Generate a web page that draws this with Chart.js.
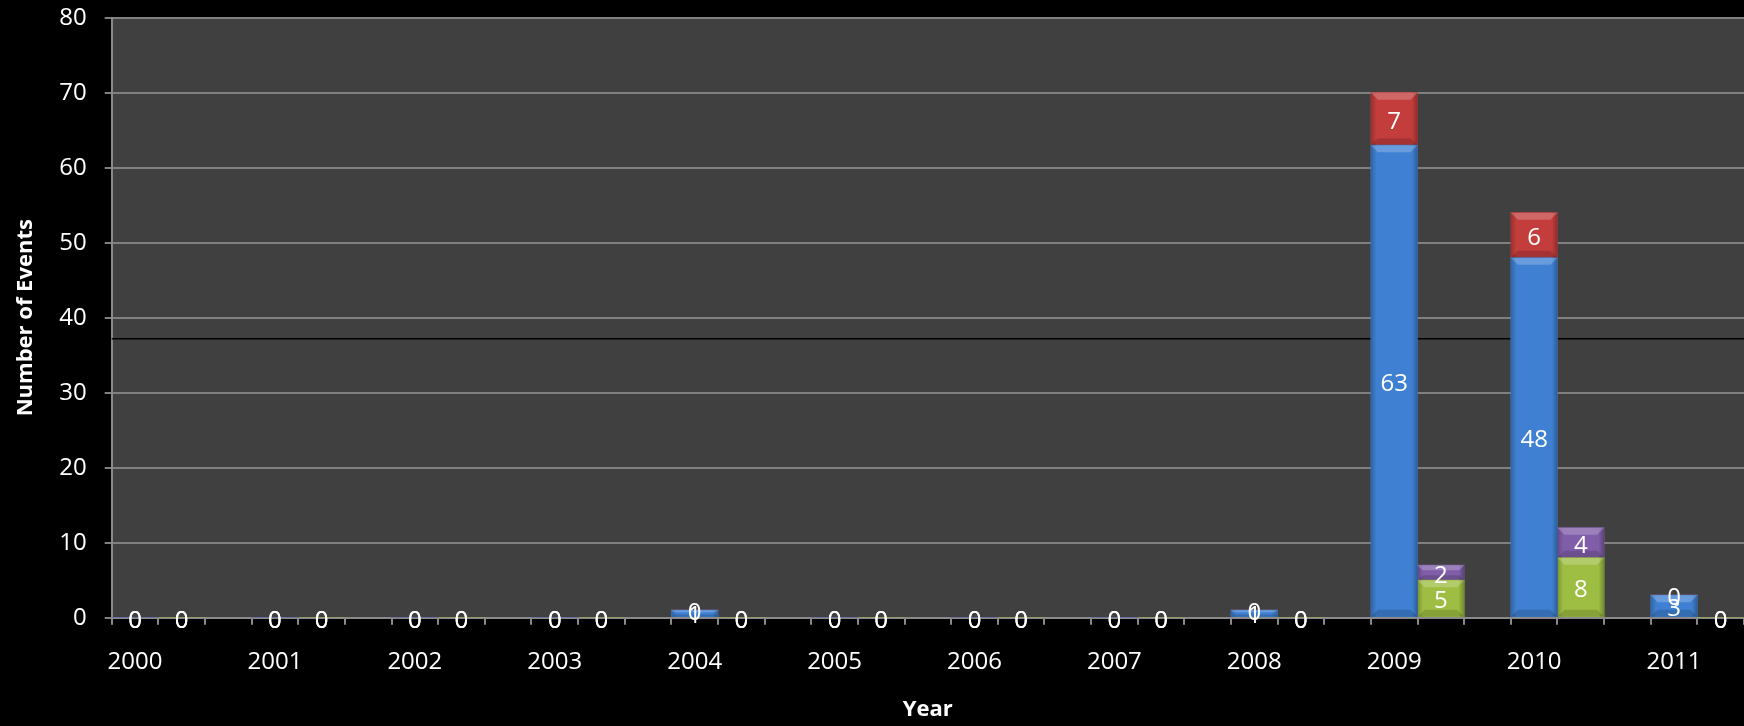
<!DOCTYPE html>
<html>
<head>
<meta charset="utf-8">
<title>Number of Events by Year</title>
<script src="https://cdn.jsdelivr.net/npm/chart.js@4.4.1/dist/chart.umd.min.js"></script>
<style>
    html, body { margin: 0; padding: 0; background: #000; overflow: hidden; }
    #wrap { width: 1744px; height: 726px; position: relative; }
</style>
</head>
<body>
<div id="wrap"><canvas id="eventsChart"></canvas></div>
<script>
// ==========================================
// DATA
// ==========================================
const years = ['2000', '2001', '2002', '2003', '2004', '2005', '2006', '2007', '2008', '2009', '2010', '2011'];

// first bar of each year (blue + red on top)
const blueValues   = [0, 0, 0, 0, 1, 0, 0, 0, 1, 63, 48, 3];
const redValues    = [0, 0, 0, 0, 0, 0, 0, 0, 0, 7, 6, 0];

// second bar of each year (green + purple on top)
const greenValues  = [0, 0, 0, 0, 0, 0, 0, 0, 0, 5, 8, 0];
const purpleValues = [0, 0, 0, 0, 0, 0, 0, 0, 0, 2, 4, 0];

const yTicks = [0, 10, 20, 30, 40, 50, 60, 70, 80];

// stray dark rule seen across the plot in the original
const strayLineValue = 37.2;

// ==========================================
// SLOTS: each year gets 3 slots (bar, bar, gap), last year has no gap
// ==========================================
const slotLabels = [];
years.forEach((y, i) => {
    slotLabels.push(y, '');
    if (i < years.length - 1) slotLabels.push('');
});

function toSlots(values, slot) {
    const out = new Array(slotLabels.length).fill(null);
    values.forEach((v, i) => {
        const idx = i * 3 + slot;
        if (idx < out.length) out[idx] = v;
    });
    return out;
}

// ==========================================
// PLUGINS
// ==========================================
// soft bevel on each bar, like the office 3D style
const barBevel = {
    id: 'barBevel',
    afterDatasetsDraw(chart) {
        const ctx = chart.ctx;
        ctx.save();
        chart.data.datasets.forEach((ds, i) => {
            chart.getDatasetMeta(i).data.forEach((bar, j) => {
                if (!ds.data[j]) return;
                const left = bar.x - bar.width / 2;
                const right = bar.x + bar.width / 2;
                const top = Math.min(bar.y, bar.base);
                const bottom = Math.max(bar.y, bar.base);
                const h = bottom - top;

                const side = ctx.createLinearGradient(left, 0, right, 0);
                side.addColorStop(0, 'rgba(0,0,0,0.22)');
                side.addColorStop(0.12, 'rgba(0,0,0,0)');
                side.addColorStop(0.88, 'rgba(0,0,0,0)');
                side.addColorStop(1, 'rgba(0,0,0,0.28)');
                ctx.fillStyle = side;
                ctx.fillRect(left, top, right - left, h);

                const bevel = Math.min(7, h / 3);
                ctx.fillStyle = 'rgba(255,255,255,0.22)';
                ctx.beginPath();
                ctx.moveTo(left, top);
                ctx.lineTo(right, top);
                ctx.lineTo(right - bevel, top + bevel);
                ctx.lineTo(left + bevel, top + bevel);
                ctx.closePath();
                ctx.fill();

                ctx.fillStyle = 'rgba(0,0,0,0.15)';
                ctx.beginPath();
                ctx.moveTo(left, bottom);
                ctx.lineTo(right, bottom);
                ctx.lineTo(right - bevel, bottom - bevel);
                ctx.lineTo(left + bevel, bottom - bevel);
                ctx.closePath();
                ctx.fill();
            });
        });
        ctx.restore();
    }
};

const barLabels = {
    id: 'barLabels',
    afterDatasetsDraw(chart) {
        const ctx = chart.ctx;
        ctx.save();
        ctx.font = '24px "Open Sans"';
        ctx.fillStyle = '#ffffff';
        ctx.textAlign = 'center';
        ctx.textBaseline = 'middle';
        chart.data.datasets.forEach((ds, i) => {
            chart.getDatasetMeta(i).data.forEach((bar, j) => {
                const v = ds.data[j];
                if (v === null) return;
                ctx.fillText(String(v), bar.x, (bar.y + bar.base) / 2 + 3);
            });
        });
        ctx.restore();
    }
};

const plotBackground = {
    id: 'plotBackground',
    beforeDraw(chart) {
        const {ctx, chartArea: a} = chart;
        ctx.save();
        ctx.fillStyle = '#404040';
        ctx.fillRect(a.left, a.top, a.right - a.left, a.bottom - a.top);
        ctx.restore();
    },
    beforeDatasetsDraw(chart) {
        const {ctx, chartArea: a, scales} = chart;
        const y = scales.y.getPixelForValue(strayLineValue);
        ctx.save();
        ctx.strokeStyle = '#000000';
        ctx.lineWidth = 1.5;
        ctx.beginPath();
        ctx.moveTo(a.left, y);
        ctx.lineTo(a.right, y);
        ctx.stroke();
        ctx.restore();
    }
};

// ==========================================
// CHART
// ==========================================
function initEventsChart() {
    const ctx = document.getElementById('eventsChart');
    if (!ctx) return;

    const barDefaults = {
        borderWidth: 0,
        categoryPercentage: 1,
        barPercentage: 1
    };

    new Chart(ctx, {
        type: 'bar',
        data: {
            labels: slotLabels,
            datasets: [
                Object.assign({ label: 'Blue', data: toSlots(blueValues, 0), backgroundColor: '#3F80D2' }, barDefaults),
                Object.assign({ label: 'Red', data: toSlots(redValues, 0), backgroundColor: '#C33D3D' }, barDefaults),
                Object.assign({ label: 'Green', data: toSlots(greenValues, 1), backgroundColor: '#9DBE42' }, barDefaults),
                Object.assign({ label: 'Purple', data: toSlots(purpleValues, 1), backgroundColor: '#7F5DA8' }, barDefaults)
            ]
        },
        options: {
            responsive: true,
            maintainAspectRatio: false,
            animation: false,
            layout: {
                padding: { left: 13, top: 17.7, right: 0, bottom: 0 }
            },
            plugins: {
                legend: { display: false },
                tooltip: { enabled: false }
            },
            scales: {
                x: {
                    stacked: true,
                    grid: {
                        display: true,
                        drawOnChartArea: false,
                        color: '#8a8a8a',
                        lineWidth: 2,
                        tickLength: 7
                    },
                    border: { display: true, color: '#8a8a8a', width: 2 },
                    ticks: {
                        color: '#ffffff',
                        font: { family: 'Open Sans', size: 24 },
                        autoSkip: false,
                        maxRotation: 0,
                        padding: 23
                    },
                    title: {
                        display: true,
                        text: 'Year',
                        color: '#ffffff',
                        font: { family: 'Open Sans', size: 22, weight: 'bold' },
                        padding: { top: 0, bottom: 3 }
                    },
                    afterFit(scale) {
                        scale.height = 108.3;
                        scale.paddingLeft = 0;
                        scale.paddingRight = 0;
                    }
                },
                y: {
                    stacked: true,
                    min: 0,
                    max: 80,
                    afterBuildTicks(scale) {
                        scale.ticks = yTicks.map(v => ({ value: v }));
                    },
                    grid: {
                        color: '#808080',
                        lineWidth: 2,
                        tickLength: 7
                    },
                    border: { display: true, color: '#8a8a8a', width: 2 },
                    ticks: {
                        color: '#ffffff',
                        font: { family: 'Open Sans', size: 24 },
                        padding: 18
                    },
                    title: {
                        display: true,
                        text: 'Number of Events',
                        color: '#ffffff',
                        font: { family: 'Open Sans', size: 22, weight: 'bold' },
                        padding: { top: 0, bottom: 0 }
                    },
                    afterFit(scale) {
                        scale.width = 98.7;
                        scale.paddingTop = 0;
                        scale.paddingBottom = 0;
                    }
                }
            }
        },
        plugins: [plotBackground, barBevel, barLabels]
    });
}

document.addEventListener('DOMContentLoaded', initEventsChart);
</script>
</body>
</html>
